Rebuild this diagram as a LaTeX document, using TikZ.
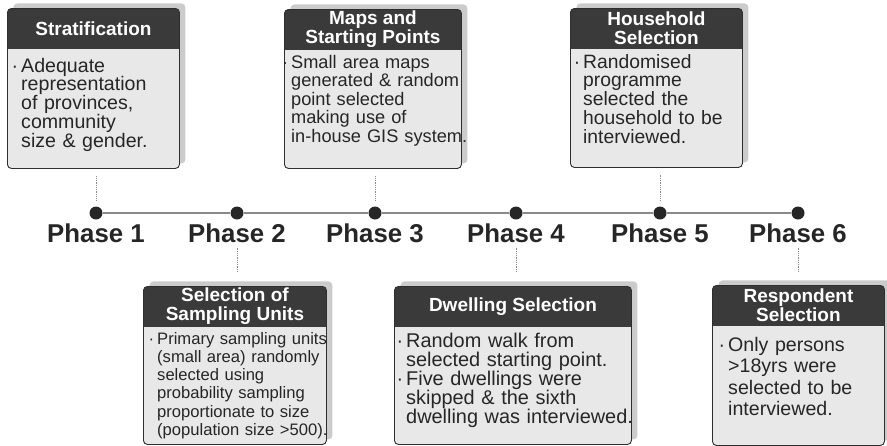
\documentclass[tikz,border=0pt]{standalone}
\usepackage{fontspec}
\setmainfont{Liberation Sans}
\usepackage{xcolor}
\usepackage{tikz}
\usetikzlibrary{positioning}
\definecolor{hdrfill}{HTML}{3A3A3A}
\definecolor{bodyfill}{HTML}{E8E8E8}
\definecolor{boxline}{HTML}{2E2E2E}
\definecolor{shadowgray}{HTML}{CBCBCB}
\definecolor{linegray}{HTML}{8A8A8A}
\definecolor{inkdark}{HTML}{262626}
\newcommand{\bul}{\leavevmode\llap{·\hspace{3pt}}}
\tikzset{
  phasebox/.style={draw=boxline, line width=0.9pt, fill=bodyfill, rounded corners=4pt,
    inner sep=0pt, anchor=north west,
    preaction={fill=shadowgray, draw=none, transform canvas={xshift=6pt, yshift=5pt}},
    path picture={\fill[hdrfill, sharp corners] (path picture bounding box.north west)
      rectangle ([yshift=-41pt]path picture bounding box.north east);}},
  hdrtext/.style={text=white, font=\bfseries\fontsize{19}{19}\selectfont, align=center, inner sep=0pt},
  bodytext/.style={text=inkdark, anchor=base west, inner sep=0pt, text width=260pt, align=left},
  dot/.style={circle, fill=inkdark, inner sep=0pt, minimum size=13pt},
  phaselbl/.style={text=inkdark, font=\bfseries\fontsize{25.8}{26}\selectfont, inner sep=0pt},
  tline/.style={draw=linegray, line width=2pt},
  conn/.style={draw=linegray, line width=0.8pt, densely dotted}
}

\begin{document}
\begin{tikzpicture}[x=1pt,y=-1pt]
  \useasboundingbox (0,0) rectangle (887,445);

  % top boxes
  \node[phasebox, minimum width=172pt, minimum height=160pt] (b1) at (7,8) {};
  \node[hdrtext] (h1) at ([yshift=-20.5pt]b1.north) {Stratification};
  \node[bodytext, font=\fontsize{19.6}{18.75}\selectfont] (t1) at ([xshift=14pt,yshift=-64pt]b1.north west)
    {\bul Adequate\\representation\\of provinces,\\community\\size \& gender.};

  \node[phasebox, minimum width=177pt, minimum height=159pt] (b3) at (284,9) {};
  \node[hdrtext] (h3) at ([yshift=-20.5pt]b3.north) {Maps and\\Starting Points};
  \node[bodytext, font=\fontsize{18.2}{18.6}\selectfont] (t3) at ([xshift=7pt,yshift=-59pt]b3.north west)
    {\bul Small area maps\\generated \& random\\point selected\\making use of\\in-house GIS system.};

  \node[phasebox, minimum width=172pt, minimum height=159pt] (b5) at (570,8) {};
  \node[hdrtext] (h5) at ([yshift=-20.5pt]b5.north) {Household\\Selection};
  \node[bodytext, font=\fontsize{19.3}{18.75}\selectfont] (t5) at ([xshift=13pt,yshift=-60pt]b5.north west)
    {\bul Randomised\\programme\\selected the\\household to be\\interviewed.};

  % bottom boxes
  \node[phasebox, minimum width=183pt, minimum height=158pt] (b2) at (143,286) {};
  \node[hdrtext] (h2) at ([yshift=-20.5pt]b2.north) {Selection of\\Sampling Units};
  \node[bodytext, font=\fontsize{16.6}{18.3}\selectfont] (t2) at ([xshift=14pt,yshift=-58pt]b2.north west)
    {\bul Primary sampling units\\(small area) randomly\\selected using\\probability sampling\\proportionate to size\\(population size >500).};

  \node[phasebox, minimum width=237pt, minimum height=158pt] (b4) at (394,286) {};
  \node[hdrtext] (h4) at ([yshift=-21pt]b4.north) {Dwelling Selection};
  \node[bodytext, font=\fontsize{19.9}{19.2}\selectfont] (t4) at ([xshift=12pt,yshift=-61pt]b4.north west)
    {\bul Random walk from\\selected starting point.\\\bul Five dwellings were\\skipped \& the sixth\\dwelling was interviewed.};

  \node[phasebox, minimum width=172pt, minimum height=160pt] (b6) at (712,285) {};
  \node[hdrtext] (h6) at ([yshift=-20.5pt]b6.north) {Respondent\\Selection};
  \node[bodytext, font=\fontsize{19.6}{21.6}\selectfont] (t6) at ([xshift=16pt,yshift=-66pt]b6.north west)
    {\bul Only persons\\>18yrs were\\selected to be\\interviewed.};

  % timeline
  \foreach \n/\x in {1/96,2/237,3/375,4/516,5/660,6/798} {
    \node[dot] (d\n) at (\x,213) {};
    \node[phaselbl, below=3.5pt of d\n] (p\n) {Phase \n};
  }
  \foreach \a/\b in {1/2,2/3,3/4,4/5,5/6}
    \draw[tline] (d\a) -- (d\b);

  \foreach \n in {1,3,5}
    \draw[conn, shorten <=6pt, shorten >=7pt] (d\n) -- (d\n |- b\n.south);
  \foreach \n in {2,4,6}
    \draw[conn, shorten <=5pt, shorten >=14pt] (p\n) -- (p\n |- b\n.north);
\end{tikzpicture}
\end{document}
